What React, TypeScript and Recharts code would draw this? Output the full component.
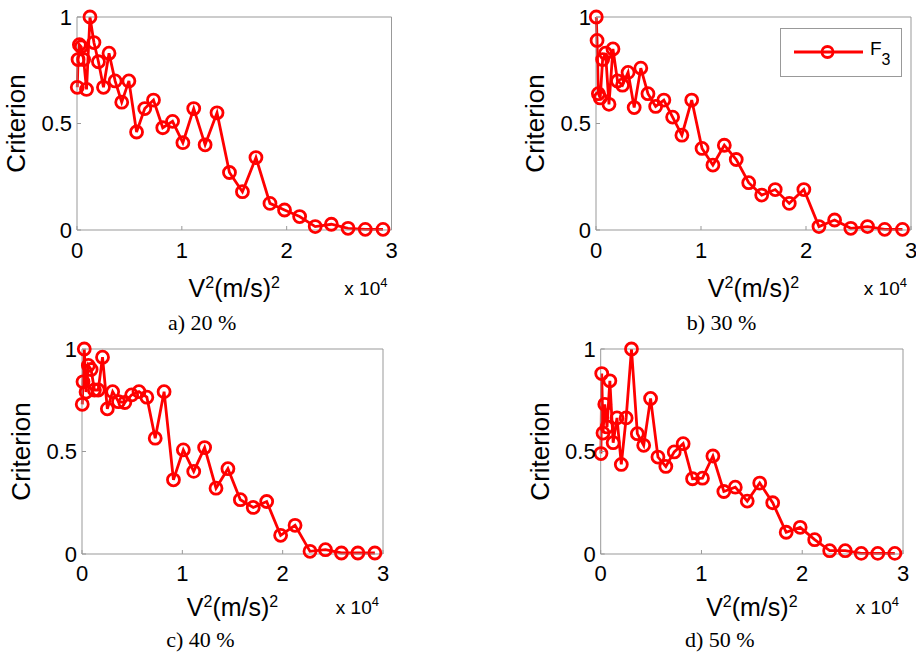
import React from 'react';
import { LineChart, Line, XAxis, YAxis, Legend, Label } from 'recharts';

// V^2 values (m/s)^2
const speedSquared = [25, 101, 227, 404, 631, 909, 1237, 1616, 2045, 2525, 3055, 3636, 4267, 4949, 5681, 6464, 7297, 8181, 9115, 10100, 11135, 12221, 13357, 14544, 15781, 17069, 18407, 19796, 21235, 22725, 24265, 25856, 27497, 29189];

const criterion20 = [0.67, 0.80, 0.87, 0.86, 0.80, 0.66, 1.0, 0.88, 0.79, 0.67, 0.83, 0.70, 0.60, 0.70, 0.46, 0.57, 0.61, 0.48, 0.51, 0.41, 0.57, 0.40, 0.55, 0.27, 0.18, 0.34, 0.125, 0.094, 0.063, 0.016, 0.027, 0.008, 0.003, 0.003];
const criterion30 = [1.0, 0.89, 0.64, 0.62, 0.80, 0.83, 0.59, 0.85, 0.70, 0.68, 0.74, 0.575, 0.76, 0.64, 0.58, 0.61, 0.53, 0.445, 0.61, 0.383, 0.305, 0.398, 0.331, 0.222, 0.164, 0.19, 0.125, 0.19, 0.016, 0.047, 0.008, 0.016, 0.003, 0.003];
const criterion40 = [0.73, 0.84, 1.0, 0.79, 0.92, 0.90, 0.80, 0.80, 0.96, 0.708, 0.792, 0.743, 0.739, 0.776, 0.792, 0.765, 0.565, 0.792, 0.362, 0.508, 0.403, 0.519, 0.321, 0.416, 0.265, 0.227, 0.256, 0.091, 0.14, 0.013, 0.021, 0.005, 0.005, 0.005];
const criterion50 = [0.49, 0.88, 0.59, 0.73, 0.62, 0.845, 0.543, 0.664, 0.437, 0.664, 1.0, 0.587, 0.53, 0.759, 0.473, 0.427, 0.498, 0.538, 0.367, 0.37, 0.478, 0.305, 0.326, 0.258, 0.346, 0.25, 0.106, 0.13, 0.07, 0.016, 0.016, 0.003, 0.003, 0.003];

const xTicks = [0, 10000, 20000, 30000];
const yTicks = [0, 0.5, 1];
const captions = ['a) 20 %', 'b) 30 %', 'c) 40 %', 'd) 50 %'];
const seriesName = 'F';
const seriesSub = '3';
const yTitle = 'Criterion';

const SANS = '"Liberation Sans", Arial, Helvetica, sans-serif';
const SERIF = '"Liberation Serif", "Times New Roman", serif';
const RED = '#ff0000';
const FRAME = '#999999';

type Geom = {
  cx: number; cy: number; cw: number; ch: number;
  pl: number; pt: number; pw: number; ph: number;
  tickC: number; labelBase: number; capBase: number;
};

const geoms: Geom[] = [
  { cx: 0, cy: 0, cw: 450, ch: 335, pl: 77, pt: 17, pw: 314.5, ph: 213, tickC: 20, labelBase: 67, capBase: 100 },
  { cx: 458, cy: 0, cw: 458, ch: 335, pl: 596, pt: 17, pw: 315, ph: 213, tickC: 20, labelBase: 67, capBase: 100 },
  { cx: 0, cy: 335, cw: 450, ch: 317, pl: 82, pt: 349, pw: 301, ph: 205, tickC: 19, labelBase: 62, capBase: 93 },
  { cx: 458, cy: 335, cw: 458, ch: 317, pl: 600.7, pt: 349, pw: 302.3, ph: 205, tickC: 19, labelBase: 62, capBase: 93 },
];

const LegendBox = () => (
  <div style={{ width: 122, height: 49, boxSizing: 'border-box', border: `1px solid ${FRAME}`, background: '#fff' }}>
    <svg width={120} height={47} style={{ display: 'block' }}>
      <line x1={13} x2={82} y1={23} y2={23} stroke={RED} strokeWidth={2.8} />
      <circle cx={46.5} cy={23} r={5.5} fill="none" stroke={RED} strokeWidth={2.8} />
      <text x={89} y={26} fontFamily={SANS} fontSize={19} fill="#000">
        {seriesName}
        <tspan fontSize={16} dy={10}>{seriesSub}</tspan>
      </text>
    </svg>
  </div>
);

function Panel({ g, values, caption, legend }: { g: Geom; values: number[]; caption: string; legend: boolean }) {
  const data = speedSquared.map((x, i) => ({ x, y: values[i] }));
  const yw = g.pl - g.cx;
  const top = g.pt - g.cy - 1; // 1px used by the top frame axis
  const right = g.cw - yw - g.pw - 1; // 1px used by the right frame axis
  const xh = g.ch - (g.pt - g.cy) - g.ph;
  const lx = yw;
  const ly = g.pt - g.cy;
  const bottom = ly + g.ph;
  const midX = lx + g.pw / 2;

  const xTitle = () => (
    <g>
      <text x={midX} y={bottom + g.labelBase} textAnchor="middle" fontFamily={SANS} fontSize={25} fill="#000">
        V<tspan fontSize={16} dy={-9}>2</tspan>
        <tspan fontSize={25} dy={9}>(m/s)</tspan>
        <tspan fontSize={16} dy={-9}>2</tspan>
      </text>
      <text x={lx + g.pw - 4} y={bottom + g.labelBase - 2} textAnchor="end" fontFamily={SANS} fontSize={19} fill="#000">
        x 10<tspan fontSize={13} dy={-8}>4</tspan>
      </text>
      <text x={midX - 32} y={bottom + g.capBase} textAnchor="middle" fontFamily={SERIF} fontSize={22} fill="#000">
        {caption}
      </text>
    </g>
  );

  const yTitleEl = () => {
    const tx = lx - 61;
    const ty = ly + g.ph / 2;
    return (
      <text x={tx} y={ty} transform={`rotate(-90, ${tx}, ${ty})`} textAnchor="middle" dominantBaseline="central" fontFamily={SANS} fontSize={26} fill="#000">
        {yTitle}
      </text>
    );
  };

  return (
    <div style={{ position: 'absolute', left: g.cx, top: g.cy }}>
      <LineChart width={g.cw} height={g.ch} data={data} margin={{ top, right, bottom: 0, left: 0 }}>
        <XAxis
          xAxisId="x"
          dataKey="x"
          type="number"
          domain={[0, 30000]}
          ticks={xTicks}
          interval={0}
          tickFormatter={(v: number) => String(v / 10000)}
          height={xh}
          axisLine={{ stroke: FRAME }}
          tickLine={{ stroke: FRAME }}
          tickSize={-4}
          tickMargin={g.tickC - 8 + 4}
          tick={{ fill: '#000', fontSize: 22, fontFamily: SANS }}
        >
          <Label content={xTitle} />
        </XAxis>
        <XAxis
          xAxisId="top"
          orientation="top"
          dataKey="x"
          type="number"
          domain={[0, 30000]}
          ticks={xTicks}
          interval={0}
          height={1}
          axisLine={{ stroke: FRAME }}
          tickLine={{ stroke: FRAME }}
          tickSize={-4}
          tick={false}
        />
        <YAxis
          yAxisId="y"
          type="number"
          domain={[0, 1]}
          ticks={yTicks}
          interval={0}
          tickFormatter={(v: number) => String(v)}
          width={yw}
          axisLine={{ stroke: FRAME }}
          tickLine={{ stroke: FRAME }}
          tickSize={-4}
          tickMargin={9}
          tick={{ fill: '#000', fontSize: 22, fontFamily: SANS }}
        >
          <Label content={yTitleEl} />
        </YAxis>
        <YAxis
          yAxisId="right"
          orientation="right"
          type="number"
          domain={[0, 1]}
          ticks={yTicks}
          interval={0}
          width={1}
          axisLine={{ stroke: FRAME }}
          tickLine={{ stroke: FRAME }}
          tickSize={-4}
          tick={false}
        />
        {legend && (
          <Legend
            layout="horizontal"
            verticalAlign="middle"
            align="center"
            wrapperStyle={{ left: 780 - g.cx, top: 28 - g.cy, width: 122, height: 49 }}
            content={() => <LegendBox />}
          />
        )}
        <Line
          xAxisId="x"
          yAxisId="y"
          dataKey="y"
          name="F3"
          stroke={RED}
          strokeWidth={2.8}
          dot={{ r: 6, stroke: RED, strokeWidth: 2.8, fill: 'none' }}
          isAnimationActive={false}
        />
      </LineChart>
    </div>
  );
}

const allSeries = [criterion20, criterion30, criterion40, criterion50];

export default function App() {
  return (
    <div style={{ position: 'relative', width: 916, height: 652, background: '#fff', overflow: 'hidden' }}>
      <style>{`body{margin:0;background:#fff}`}</style>
      {geoms.map((g, i) => (
        <Panel key={i} g={g} values={allSeries[i]} caption={captions[i]} legend={i === 1} />
      ))}
    </div>
  );
}
